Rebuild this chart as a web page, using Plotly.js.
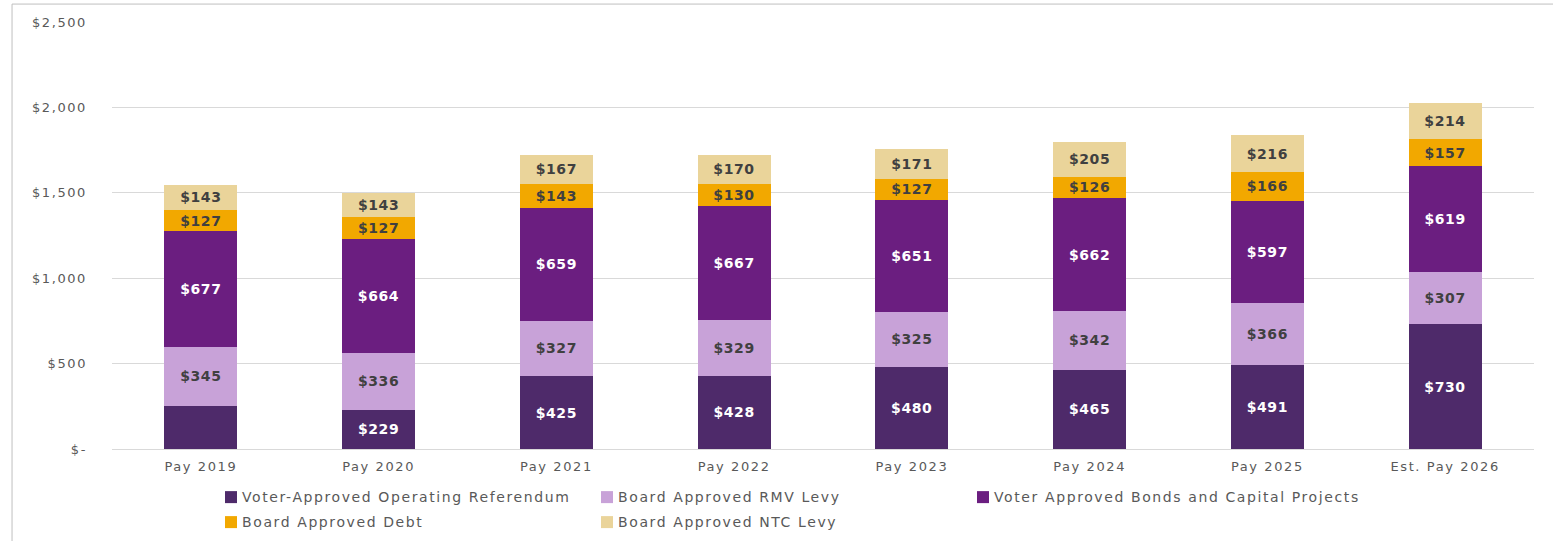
<!DOCTYPE html>
<html>
<head>
<meta charset="utf-8">
<script src="https://cdn.plot.ly/plotly-3.0.1.min.js"></script>
<style>
html,body{margin:0;padding:0;background:#fff;}
#chart{width:1553px;height:541px;}
#chart .xtick text, #chart .ytick text, #chart .legendtext, #chart .infolayer text{letter-spacing:1.6px;}
#chart .bartext{letter-spacing:0.6px;}
#chart .scrollbox{clip-path:none !important;}
#chart g.legendpoints{transform:translate(9px,1px);}
</style>
</head>
<body>
<div id="chart"></div>
<script>
const categories = ["Pay 2019","Pay 2020","Pay 2021","Pay 2022","Pay 2023","Pay 2024","Pay 2025","Est. Pay 2026"];
const operatingReferendum = [252, 229, 425, 428, 480, 465, 491, 730];
const rmvLevy = [345, 336, 327, 329, 325, 342, 366, 307];
const bondsCapital = [677, 664, 659, 667, 651, 662, 597, 619];
const boardDebt = [127, 127, 143, 130, 127, 126, 166, 157];
const ntcLevy = [143, 143, 167, 170, 171, 205, 216, 214];
// the first operating-referendum segment carries no label in the source
const operatingLabelShown = [false, true, true, true, true, true, true, true];
const tickValues = [0, 500, 1000, 1500, 2000, 2500];
const tickLabels = ["$-", "$500", "$1,000", "$1,500", "$2,000", "$2,500"];

const FONT = "DejaVu Sans, Verdana, sans-serif";
function labels(vals, shown) {
  return vals.map((v, i) => (shown && !shown[i]) ? "" : "$" + v);
}
function series(name, vals, color, txtColor, legendId, shown) {
  return {
    type: "bar", name: name, x: categories, y: vals, legend: legendId,
    marker: {color: color},
    text: labels(vals, shown), textposition: "inside", insidetextanchor: "middle",
    textangle: 0, constraintext: "none",
    textfont: {family: FONT, size: 14, color: txtColor, weight: "bold"},
    hoverinfo: "skip"
  };
}
const data = [
  series("Voter-Approved Operating Referendum", operatingReferendum, "#4E2A6A", "#ffffff", "legend", operatingLabelShown),
  series("Board Approved RMV Levy", rmvLevy, "#C8A2D8", "#404040", "legend"),
  series("Voter Approved Bonds and Capital Projects", bondsCapital, "#6B1E80", "#ffffff", "legend"),
  series("Board Approved Debt", boardDebt, "#F2A800", "#404040", "legend2"),
  series("Board Approved NTC Levy", ntcLevy, "#EAD49A", "#404040", "legend2")
];
const legendBase = {orientation: "h", xref: "paper", x: 0.0633, xanchor: "left", yref: "container", yanchor: "top",
  traceorder: "normal", entrywidth: 331, entrywidthmode: "pixels", itemwidth: 30,
  font: {size: 14, color: "#595959"}, bgcolor: "rgba(0,0,0,0)"};
const layout = {
  width: 1553, height: 541,
  margin: {l: 112, r: 19, t: 22, b: 92, autoexpand: false},
  barmode: "stack", bargap: 0.59,
  paper_bgcolor: "#ffffff", plot_bgcolor: "#ffffff",
  font: {family: FONT, color: "#595959", size: 13},
  xaxis: {type: "category", showgrid: false, showline: true, linecolor: "#d9d9d9", linewidth: 1,
          ticks: "", ticklabelstandoff: 5, tickfont: {size: 13, color: "#595959"}},
  yaxis: {range: [0, 2500], tickvals: tickValues, ticktext: tickLabels, showgrid: true,
          gridcolor: "#d9d9d9", gridwidth: 1, zeroline: false, showline: false, ticks: "",
          ticklabelstandoff: 24, tickfont: {size: 13, color: "#595959"}},
  showlegend: true,
  legend: Object.assign({}, legendBase, {y: 0.1118}),
  legend2: Object.assign({}, legendBase, {y: 0.0656}),
  hovermode: false,
  shapes: [{type: "rect", xref: "paper", yref: "paper", x0: -0.0703, x1: 1.05, y0: -0.3, y1: 1.042,
            line: {color: "#bfbfbf", width: 1}, fillcolor: "rgba(0,0,0,0)", layer: "below"}]
};
Plotly.newPlot("chart", data, layout, {displayModeBar: false, staticPlot: true});
</script>
</body>
</html>
